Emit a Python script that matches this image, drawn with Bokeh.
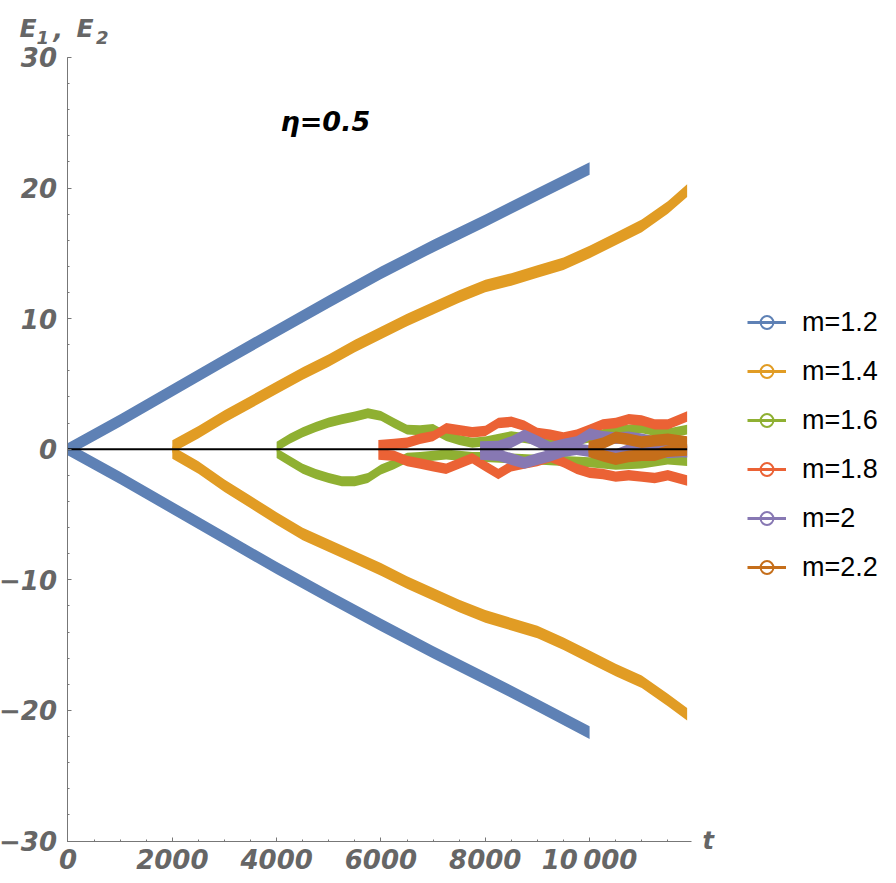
import numpy as np
from bokeh.plotting import figure
from bokeh.models import (Range1d, SingleIntervalTicker, Legend, LegendItem,
                          Label, ColumnDataSource)
from bokeh.embed import file_html
from bokeh.resources import INLINE

# ---------------- data ----------------
labels = ["m=1.2", "m=1.4", "m=1.6", "m=1.8", "m=2", "m=2.2"]
colors = ["#5E81B5", "#E19C24", "#8FB032", "#EB6235", "#8778B3", "#C56E1A"]

t_12 = [0, 1000, 2000, 3000, 4000, 5000, 6000, 7000, 8000, 9000, 10000]
e1_12 = [0.0, 2.2, 4.5, 6.8, 9.05, 11.3, 13.5, 15.55, 17.5, 19.5, 21.5]
e2_12 = [0.0, -2.2, -4.5, -6.8, -9.1, -11.3, -13.45, -15.55, -17.55, -19.6, -21.7]

t_14 = [2000, 2500, 3000, 3500, 4000, 4500, 5000, 5500, 6000, 6500, 7000, 7500,
        8000, 8500, 9000, 9500, 10000, 10500, 11000, 11500, 11870]
e1_14 = [0.2, 1.3, 2.5, 3.6, 4.7, 5.8, 6.8, 7.9, 8.9, 9.9, 10.8, 11.7,
         12.5, 13.0, 13.6, 14.2, 15.1, 16.1, 17.1, 18.5, 19.8]
e2_14 = [-0.25, -1.4, -2.8, -4.05, -5.3, -6.5, -7.4, -8.3, -9.2, -10.2, -11.1, -12.0,
         -12.8, -13.4, -14.0, -14.9, -15.9, -16.9, -17.8, -19.2, -20.3]

t_16 = [4000, 4250, 4500, 4750, 5000, 5250, 5500, 5750, 6000, 6250, 6500, 6750, 7000,
        7250, 7500, 7750, 8000, 8500, 9000, 9500, 10000, 10500, 11000, 11500, 11870]
e1_16 = [0.2, 0.8, 1.3, 1.7, 2.05, 2.3, 2.5, 2.75, 2.55, 2.0, 1.5, 1.45, 1.55,
         1.0, 0.7, 0.5, 0.6, 1.0, 0.7, 0.5, 0.9, 1.4, 1.6, 1.2, 1.5]
e2_16 = [-0.3, -0.9, -1.5, -1.9, -2.2, -2.45, -2.45, -2.2, -1.55, -1.15, -0.65, -0.6, -0.5,
         -0.4, -0.5, -0.6, -0.6, -0.7, -0.8, -0.9, -1.0, -1.2, -1.1, -0.8, -0.9]

t_18 = [5950, 6250, 6500, 6750, 7000, 7250, 7500, 7750, 8000, 8250, 8500, 8750,
        9000, 9250, 9500, 9750, 10000, 10250, 10500, 10750, 11000, 11250, 11500, 11870]
e1_18 = [0.3, 0.4, 0.5, 0.8, 1.0, 1.6, 1.45, 1.3, 1.4, 2.0, 2.1, 1.8,
         1.25, 1.1, 0.9, 1.1, 1.5, 1.9, 2.0, 2.3, 2.2, 1.9, 1.9, 2.5]
e2_18 = [-0.4, -0.5, -0.9, -1.1, -1.3, -1.5, -1.1, -0.7, -1.3, -1.9, -1.3, -1.1,
         -0.9, -0.6, -1.0, -1.5, -1.8, -1.9, -2.1, -2.0, -2.1, -2.2, -2.0, -2.4]

t_20 = [7900, 8250, 8500, 8750, 9000, 9250, 9500, 9750, 10000, 10250, 10500, 10750,
        11000, 11250, 11500, 11870]
e1_20 = [0.15, 0.2, 0.55, 1.05, 0.6, 0.1, 0.35, 0.55, 1.15, 0.95, 0.85, 0.9,
         0.75, 0.55, 0.0, -0.2]
e2_20 = [-0.35, -0.45, -0.75, -1.05, -0.75, -0.5, -0.15, 0.0, -0.15, -0.45, -0.45, -0.05,
         -0.05, -0.05, -0.25, -0.15]

t_22 = [9980, 10250, 10500, 10750, 11000, 11250, 11500, 11870]
e1_22 = [0.15, 0.45, 0.9, 0.75, 0.55, 0.65, 0.75, 0.55]
e2_22 = [-0.15, -0.5, -0.75, -0.55, -0.45, -0.45, -0.15, -0.05]

zero_t = [0, 11870]
zero_v = [0, 0]

x_ticks_labels = {10000: "10\u2009000"}
y_ticks_labels = {-30: "\u221230", -20: "\u221220", -10: "\u221210"}

series = [
    (t_12, e1_12, e2_12, 0.48),
    (t_14, e1_14, e2_14, 0.48),
    (t_16, e1_16, e2_16, 0.38),
    (t_18, e1_18, e2_18, 0.40),
    (t_20, e1_20, e2_20, 0.45),
    (t_22, e1_22, e2_22, 0.45),
]

# ---------------- figure ----------------
# The frame covers the whole picture; the axes are drawn at fixed data
# locations (t=0 and E=-30), so texts outside the axis box are not clipped.
PX_PER_UNIT = 13.06
p = figure(frame_width=892, frame_height=880,
           x_range=Range1d(-1294.1, 15807.3), y_range=Range1d(-33.024, 34.357),
           output_backend="svg", toolbar_location=None,
           min_border_left=0, min_border_top=0, min_border_bottom=0,
           min_border_right=0)
p.grid.visible = False
p.outline_line_color = None
p.background_fill_color = "white"

for (t, e1, e2, hw), col in zip(series, colors):
    t = np.asarray(t, float)
    for e in (e1, e2):
        e = np.asarray(e, float)
        p.varea(x=t, y1=e - hw, y2=e + hw, fill_color=col, fill_alpha=1.0)

p.line(zero_t, zero_v, line_color="black", line_width=2)

# ---------------- axes ----------------
xa = p.xaxis[0]
ya = p.yaxis[0]
xa.fixed_location = -30
ya.fixed_location = 0
xa.bounds = (0, 11960)
ya.bounds = (-30, 30)
xa.ticker = SingleIntervalTicker(interval=2000, num_minor_ticks=4)
ya.ticker = SingleIntervalTicker(interval=10, num_minor_ticks=5)
xa.major_label_overrides = x_ticks_labels
ya.major_label_overrides = y_ticks_labels
for ax in (xa, ya):
    ax.axis_line_color = "#777777"
    ax.axis_line_width = 1
    ax.major_tick_line_color = "#777777"
    ax.minor_tick_line_color = "#777777"
    ax.major_tick_in = 4
    ax.major_tick_out = 0
    ax.minor_tick_in = 2
    ax.minor_tick_out = 0
    ax.major_label_text_font = "DejaVu Sans"
    ax.major_label_text_font_style = "bold italic"
    ax.major_label_text_font_size = "26px"
    ax.major_label_text_color = "#666666"
xa.major_label_standoff = 4
ya.major_label_standoff = 11

# ---------------- texts ----------------
def txt(x, y, s, size, color="#666666"):
    # Bokeh anchors the label at the middle of its text box; move the anchor
    # up so that y is the baseline of the text.
    shift = 0.346 * size / PX_PER_UNIT
    p.add_layout(Label(x=x, y=y + shift, text=s, text_font="DejaVu Sans",
                       text_font_style="bold italic", text_font_size=f"{size}px",
                       text_color=color, text_align="left",
                       text_baseline="middle"))

# y-axis label "E1, E2" with real subscripts
txt(-929.8, 31.52, "E", 25)
txt(-603.9, 31.06, "1", 18)
txt(-278.0, 31.52, ",", 25)
txt(163.0, 31.52, "E", 25)
txt(536.8, 31.06, "2", 18)
# x-axis label
txt(12164.6, -30.62, "t", 24)
# annotation
txt(4074, 24.35, "\u03b7=0.5", 27, color="black")

# ---------------- legend ----------------
items = []
for (t, e1, e2, hw), lab, col in zip(series, labels, colors):
    src = ColumnDataSource(data=dict(x=t, y=e1))
    r_line = p.line(x="x", y="y", source=src, line_color=col, line_width=3,
                    visible=False)
    r_mark = p.scatter(x="x", y="y", source=src, marker="circle", size=10,
                       line_color=col, fill_color=None, line_width=2,
                       visible=False)
    items.append(LegendItem(label=lab, renderers=[r_line, r_mark]))

legend = Legend(items=items, location=(747, 297), orientation="vertical",
                glyph_width=39, glyph_height=32, label_height=32,
                label_standoff=16, spacing=17, padding=0, margin=0,
                border_line_color=None, background_fill_alpha=0,
                inactive_fill_alpha=0,
                label_text_font="Liberation Sans", label_text_font_size="27px",
                label_text_color="black")
p.add_layout(legend, "center")

open("out.html", "w").write(file_html(p, INLINE))
